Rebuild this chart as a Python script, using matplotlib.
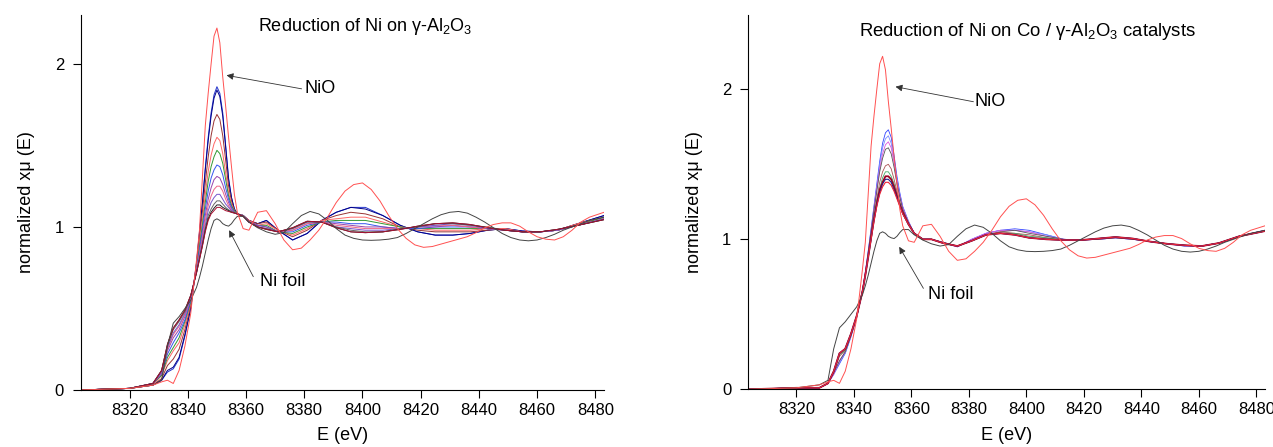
import matplotlib
matplotlib.use("Agg")
import matplotlib.pyplot as plt

plt.rcParams['font.family'] = ['Liberation Sans', 'DejaVu Sans']
plt.rcParams['mathtext.fontset'] = 'custom'
plt.rcParams['mathtext.rm'] = 'Liberation Sans'
plt.rcParams['mathtext.it'] = 'Liberation Sans:italic'

# energy grid (eV) shared by the reduction series
energy = [8303, 8320, 8328, 8331, 8333, 8335, 8337, 8339, 8341,
          8343, 8344, 8345, 8346, 8347, 8348, 8349, 8350, 8351, 8352,
          8353, 8354, 8355, 8356, 8357, 8359, 8361, 8364, 8367, 8371,
          8376, 8381, 8386, 8391, 8396, 8401, 8407, 8413, 8419, 8425,
          8431, 8437, 8443, 8449, 8455, 8461, 8467, 8474, 8483]

# finer grid for the two reference spectra
ref_energy = [8303, 8320, 8328, 8331, 8333, 8335, 8337, 8339, 8341,
              8343, 8344, 8345, 8346, 8347, 8348, 8349, 8350, 8351, 8352,
              8353, 8354, 8355, 8356, 8357, 8359, 8361,
              8364, 8367, 8370, 8373, 8376, 8379, 8382, 8385, 8388, 8391,
              8394, 8397, 8400, 8403, 8406, 8409, 8412, 8415, 8418, 8421,
              8424, 8427, 8430, 8433, 8436, 8439, 8442, 8445, 8448, 8451,
              8454, 8457, 8460, 8463, 8466, 8469, 8472, 8475, 8478, 8483]

# reference spectra (same in both panels)
nio = [0.00, 0.01, 0.03, 0.05, 0.06, 0.04, 0.12, 0.27, 0.47,
       0.80, 0.98, 1.30, 1.62, 1.82, 2.00, 2.17, 2.22, 2.13, 1.92,
       1.74, 1.55, 1.37, 1.20, 1.09, 0.99, 0.98,
       1.09, 1.10, 1.02, 0.92, 0.86, 0.87, 0.92, 0.98, 1.06, 1.15,
       1.22, 1.26, 1.27, 1.23, 1.16, 1.07, 0.99, 0.93, 0.89, 0.875,
       0.88, 0.895, 0.91, 0.925, 0.94, 0.965, 0.995, 1.015, 1.025, 1.025,
       1.005, 0.97, 0.94, 0.925, 0.92, 0.94, 0.98, 1.03, 1.06, 1.09]
ni_foil = [0.00, 0.01, 0.03, 0.06, 0.27, 0.41, 0.45, 0.50, 0.55,
           0.63, 0.69, 0.76, 0.84, 0.92, 0.99, 1.04, 1.05, 1.04, 1.02,
           1.01, 1.005, 1.02, 1.045, 1.065, 1.065, 1.03,
           0.995, 0.97, 0.955, 0.965, 1.02, 1.07, 1.095, 1.08, 1.04, 0.99,
           0.95, 0.93, 0.92, 0.918, 0.92, 0.925, 0.935, 0.96, 0.99, 1.02,
           1.05, 1.075, 1.09, 1.095, 1.085, 1.06, 1.03, 0.995, 0.96, 0.935,
           0.92, 0.915, 0.92, 0.935, 0.955, 0.98, 1.00, 1.02, 1.04, 1.06]

# reduction series, Ni / gamma-Al2O3
left_series = [
    [0.00, 0.01, 0.03, 0.06, 0.11, 0.13, 0.19, 0.33, 0.50,
     0.78, 0.97, 1.15, 1.36, 1.55, 1.70, 1.81, 1.86, 1.82, 1.70, 1.50, 1.30, 1.18, 1.11, 1.08,
     1.07, 1.04, 1.02, 1.04, 0.98, 0.92, 0.96, 1.04, 1.09, 1.12, 1.12, 1.07, 1.01, 0.97, 0.95, 0.95, 0.96, 0.98, 0.99, 0.975, 0.97, 0.98, 1.02, 1.07],
    [0.00, 0.01, 0.03, 0.06, 0.12, 0.14, 0.20, 0.34, 0.50,
     0.78, 0.96, 1.14, 1.35, 1.53, 1.68, 1.79, 1.84, 1.80, 1.68, 1.49, 1.29, 1.18, 1.11, 1.08,
     1.07, 1.04, 1.02, 1.04, 0.98, 0.92, 0.96, 1.04, 1.09, 1.12, 1.11, 1.07, 1.01, 0.97, 0.95, 0.95, 0.96, 0.98, 0.99, 0.975, 0.97, 0.98, 1.02, 1.07],
    [0.00, 0.01, 0.03, 0.07, 0.15, 0.19, 0.25, 0.37, 0.52,
     0.77, 0.93, 1.09, 1.27, 1.43, 1.56, 1.65, 1.69, 1.66, 1.56, 1.41, 1.25, 1.16, 1.10, 1.08,
     1.07, 1.04, 1.02, 1.03, 0.98, 0.94, 0.98, 1.04, 1.07, 1.09, 1.08, 1.05, 1.00, 0.98, 0.97, 0.97, 0.97, 0.98, 0.99, 0.97, 0.97, 0.98, 1.02, 1.06],
    [0.00, 0.01, 0.03, 0.09, 0.18, 0.24, 0.29, 0.40, 0.53,
     0.76, 0.90, 1.04, 1.20, 1.34, 1.44, 1.51, 1.55, 1.53, 1.45, 1.33, 1.21, 1.14, 1.10, 1.08,
     1.07, 1.04, 1.01, 1.02, 0.98, 0.95, 0.99, 1.04, 1.05, 1.06, 1.06, 1.03, 1.00, 0.99, 0.98, 0.98, 0.98, 0.99, 0.99, 0.97, 0.97, 0.98, 1.02, 1.06],
    [0.00, 0.01, 0.04, 0.09, 0.20, 0.26, 0.32, 0.42, 0.54,
     0.75, 0.88, 1.01, 1.15, 1.28, 1.37, 1.43, 1.47, 1.45, 1.39, 1.29, 1.19, 1.13, 1.10, 1.08,
     1.07, 1.03, 1.01, 1.01, 0.97, 0.96, 1.00, 1.03, 1.04, 1.04, 1.04, 1.02, 1.00, 0.99, 0.99, 0.99, 0.99, 0.99, 0.98, 0.97, 0.97, 0.98, 1.01, 1.06],
    [0.00, 0.01, 0.04, 0.10, 0.22, 0.29, 0.35, 0.43, 0.55,
     0.74, 0.86, 0.98, 1.11, 1.22, 1.30, 1.35, 1.38, 1.37, 1.32, 1.24, 1.17, 1.12, 1.09, 1.08,
     1.07, 1.03, 1.01, 1.00, 0.97, 0.97, 1.01, 1.03, 1.03, 1.02, 1.02, 1.00, 0.99, 0.99, 1.00, 1.00, 1.00, 0.99, 0.98, 0.97, 0.97, 0.98, 1.01, 1.05],
    [0.00, 0.01, 0.04, 0.10, 0.24, 0.32, 0.37, 0.45, 0.56,
     0.74, 0.84, 0.95, 1.07, 1.17, 1.24, 1.29, 1.31, 1.30, 1.26, 1.20, 1.15, 1.11, 1.09, 1.08,
     1.07, 1.03, 1.01, 1.00, 0.97, 0.98, 1.02, 1.03, 1.02, 1.01, 1.00, 1.00, 0.99, 1.00, 1.00, 1.01, 1.00, 0.99, 0.98, 0.97, 0.97, 0.98, 1.01, 1.05],
    [0.00, 0.01, 0.04, 0.11, 0.25, 0.34, 0.39, 0.46, 0.57,
     0.73, 0.83, 0.93, 1.04, 1.13, 1.19, 1.23, 1.25, 1.25, 1.22, 1.17, 1.13, 1.10, 1.09, 1.08,
     1.07, 1.03, 1.00, 0.99, 0.97, 0.98, 1.02, 1.03, 1.01, 1.00, 0.99, 0.99, 0.99, 1.00, 1.01, 1.01, 1.00, 0.99, 0.98, 0.97, 0.97, 0.98, 1.01, 1.05],
    [0.00, 0.01, 0.04, 0.11, 0.26, 0.35, 0.40, 0.47, 0.57,
     0.73, 0.82, 0.91, 1.01, 1.10, 1.15, 1.18, 1.20, 1.20, 1.17, 1.14, 1.12, 1.10, 1.09, 1.08,
     1.07, 1.03, 1.00, 0.99, 0.97, 0.99, 1.03, 1.03, 1.00, 0.99, 0.98, 0.98, 0.99, 1.00, 1.01, 1.02, 1.01, 0.99, 0.98, 0.97, 0.97, 0.98, 1.01, 1.05],
    [0.00, 0.01, 0.04, 0.12, 0.27, 0.37, 0.42, 0.48, 0.58,
     0.72, 0.81, 0.89, 0.99, 1.07, 1.11, 1.14, 1.16, 1.16, 1.14, 1.12, 1.105, 1.095, 1.09, 1.08,
     1.07, 1.03, 1.00, 0.99, 0.97, 0.99, 1.03, 1.03, 1.00, 0.98, 0.97, 0.97, 0.99, 1.00, 1.02, 1.02, 1.01, 1.00, 0.98, 0.97, 0.97, 0.985, 1.01, 1.045],
    [0.00, 0.01, 0.04, 0.12, 0.28, 0.38, 0.43, 0.49, 0.58,
     0.72, 0.80, 0.885, 0.98, 1.05, 1.09, 1.115, 1.135, 1.135, 1.12, 1.11, 1.10, 1.09, 1.085, 1.08,
     1.065, 1.03, 1.00, 0.985, 0.97, 0.995, 1.035, 1.03, 0.995, 0.97, 0.965, 0.97, 0.985, 1.005, 1.02, 1.025, 1.015, 0.995, 0.98, 0.97, 0.97, 0.985, 1.01, 1.045],
    [0.00, 0.01, 0.04, 0.12, 0.28, 0.38, 0.43, 0.49, 0.58,
     0.72, 0.80, 0.88, 0.97, 1.04, 1.08, 1.10, 1.12, 1.12, 1.11, 1.10, 1.095, 1.09, 1.085, 1.08,
     1.065, 1.03, 1.00, 0.985, 0.97, 0.995, 1.035, 1.03, 0.995, 0.97, 0.965, 0.97, 0.985, 1.005, 1.02, 1.025, 1.015, 0.995, 0.98, 0.97, 0.97, 0.985, 1.01, 1.045],
]
left_colors = ['#2233cc', '#000088', '#993333', '#ff6666', '#339933', '#3355ee',
               '#9944aa', '#ee6688', '#7755cc', '#666666', '#222222', '#aa1133']

# reduction series, Ni on Co / gamma-Al2O3
right_series = [
    [0.00, 0.01, 0.01, 0.04, 0.10, 0.17, 0.24, 0.35, 0.48,
     0.66, 0.78, 0.92, 1.07, 1.22, 1.37, 1.52, 1.64, 1.71, 1.73, 1.68, 1.56, 1.42, 1.31, 1.22, 1.12, 1.04,
     1.00, 1.00, 0.98, 0.95, 1.00, 1.04, 1.06, 1.07, 1.06, 1.03, 1.00, 0.995, 1.00, 1.01, 1.00, 0.985, 0.97, 0.955, 0.955, 0.975, 1.02, 1.06],
    [0.00, 0.01, 0.01, 0.04, 0.10, 0.18, 0.24, 0.35, 0.48,
     0.66, 0.78, 0.92, 1.06, 1.21, 1.35, 1.50, 1.61, 1.67, 1.69, 1.64, 1.53, 1.40, 1.30, 1.21, 1.12, 1.04,
     1.00, 1.00, 0.98, 0.95, 1.00, 1.04, 1.06, 1.06, 1.05, 1.03, 1.00, 0.995, 1.00, 1.01, 1.00, 0.985, 0.97, 0.955, 0.955, 0.975, 1.02, 1.06],
    [0.00, 0.01, 0.01, 0.04, 0.10, 0.19, 0.25, 0.36, 0.48,
     0.66, 0.78, 0.91, 1.05, 1.20, 1.34, 1.47, 1.57, 1.63, 1.65, 1.61, 1.51, 1.39, 1.29, 1.21, 1.115, 1.04,
     1.00, 1.00, 0.98, 0.95, 1.00, 1.04, 1.06, 1.06, 1.05, 1.02, 1.00, 0.995, 1.00, 1.01, 1.00, 0.985, 0.97, 0.96, 0.955, 0.975, 1.02, 1.06],
    [0.00, 0.01, 0.01, 0.04, 0.11, 0.19, 0.25, 0.36, 0.48,
     0.66, 0.77, 0.91, 1.05, 1.19, 1.32, 1.45, 1.54, 1.60, 1.61, 1.57, 1.48, 1.37, 1.28, 1.20, 1.11, 1.04,
     1.00, 1.00, 0.98, 0.955, 0.99, 1.03, 1.05, 1.06, 1.04, 1.02, 1.00, 0.995, 1.00, 1.01, 1.00, 0.985, 0.97, 0.96, 0.955, 0.975, 1.02, 1.06],
    [0.00, 0.01, 0.01, 0.04, 0.11, 0.22, 0.26, 0.36, 0.49,
     0.65, 0.77, 0.89, 1.02, 1.15, 1.27, 1.38, 1.45, 1.49, 1.50, 1.47, 1.40, 1.32, 1.25, 1.19, 1.11, 1.04,
     1.00, 1.00, 0.975, 0.955, 0.99, 1.03, 1.05, 1.04, 1.03, 1.01, 0.995, 0.995, 1.005, 1.015, 1.005, 0.985, 0.97, 0.96, 0.955, 0.975, 1.02, 1.055],
    [0.00, 0.01, 0.01, 0.04, 0.12, 0.23, 0.26, 0.37, 0.49,
     0.65, 0.76, 0.89, 1.01, 1.14, 1.25, 1.34, 1.41, 1.45, 1.45, 1.42, 1.37, 1.30, 1.24, 1.18, 1.10, 1.04,
     1.00, 1.00, 0.975, 0.955, 0.99, 1.03, 1.04, 1.04, 1.02, 1.01, 0.995, 0.995, 1.005, 1.015, 1.005, 0.985, 0.97, 0.96, 0.955, 0.975, 1.02, 1.055],
    [0.00, 0.01, 0.01, 0.04, 0.12, 0.24, 0.27, 0.37, 0.49,
     0.65, 0.76, 0.88, 1.01, 1.13, 1.24, 1.33, 1.38, 1.42, 1.42, 1.40, 1.35, 1.29, 1.23, 1.18, 1.10, 1.04,
     1.00, 1.00, 0.975, 0.955, 0.99, 1.03, 1.04, 1.03, 1.01, 1.00, 0.995, 0.995, 1.005, 1.015, 1.005, 0.985, 0.97, 0.96, 0.955, 0.975, 1.02, 1.055],
    [0.00, 0.01, 0.01, 0.04, 0.12, 0.24, 0.27, 0.37, 0.49,
     0.65, 0.76, 0.88, 1.00, 1.13, 1.23, 1.31, 1.37, 1.40, 1.40, 1.38, 1.33, 1.28, 1.23, 1.17, 1.10, 1.04,
     1.00, 1.00, 0.975, 0.955, 0.99, 1.03, 1.04, 1.03, 1.01, 1.00, 0.995, 0.995, 1.005, 1.015, 1.005, 0.985, 0.97, 0.96, 0.955, 0.975, 1.02, 1.055],
    [0.00, 0.01, 0.01, 0.04, 0.12, 0.24, 0.27, 0.37, 0.49,
     0.65, 0.76, 0.88, 1.00, 1.12, 1.22, 1.30, 1.35, 1.38, 1.38, 1.36, 1.32, 1.27, 1.22, 1.17, 1.10, 1.04,
     1.00, 1.00, 0.975, 0.955, 0.99, 1.03, 1.04, 1.03, 1.01, 1.00, 0.995, 0.995, 1.005, 1.015, 1.005, 0.985, 0.97, 0.96, 0.955, 0.975, 1.02, 1.055],
]
right_colors = ['#3344ff', '#7788ff', '#dd55dd', '#555555', '#aa5555',
                '#44aa66', '#990022', '#222288', '#ee2233']
right_widths = [0.6, 0.6, 0.6, 0.6, 0.6, 0.6, 1.3, 0.8, 0.8]

x_ticks = [8320, 8340, 8360, 8380, 8400, 8420, 8440, 8460, 8480]

fig = plt.figure(figsize=(12.73, 4.47), dpi=100)
ax1 = fig.add_axes([0.0634, 0.1275, 0.4111, 0.839])
ax2 = fig.add_axes([0.5876, 0.129, 0.4061, 0.8374])


def style(ax, ymax):
    ax.set_xlim(8303.2, 8483)
    ax.set_ylim(0, ymax)
    ax.spines['top'].set_visible(False)
    ax.spines['right'].set_visible(False)
    ax.spines['left'].set_linewidth(0.8)
    ax.spines['bottom'].set_linewidth(0.8)
    ax.set_xticks(x_ticks)
    ax.set_yticks([0, 1, 2])
    ax.tick_params(direction='out', length=6, width=0.8, labelsize=12)
    ax.tick_params(axis='x', pad=3)
    ax.tick_params(axis='y', pad=6)
    ax.set_xlabel('E (eV)', fontsize=13, labelpad=7)
    ax.set_ylabel('normalized xμ (E)', fontsize=13, labelpad=14)


for row, c in zip(left_series, left_colors):
    ax1.plot(energy, row, color=c, lw=0.7)
ax1.plot(ref_energy, ni_foil, color='#444444', lw=0.7)
ax1.plot(ref_energy, nio, color='#ff5050', lw=0.7)
style(ax1, 2.30)
ax1.text(0.543, 0.968, r'Reduction of Ni on γ-Al$_2$O$_3$', transform=ax1.transAxes,
         ha='center', va='center', fontsize=13)

for row, c, w in zip(right_series, right_colors, right_widths):
    ax2.plot(energy, row, color=c, lw=w)
ax2.plot(ref_energy, ni_foil, color='#444444', lw=0.7)
ax2.plot(ref_energy, nio, color='#ff5050', lw=0.7)
style(ax2, 2.495)
ax2.text(0.54, 0.955, r'Reduction of Ni on Co / γ-Al$_2$O$_3$ catalysts', transform=ax2.transAxes,
         ha='center', va='center', fontsize=13.3)

arrow = dict(arrowstyle='-|>', color='#333333', lw=0.6, mutation_scale=10,
             shrinkA=0, shrinkB=0)

ax1.annotate('', xy=(8353.3, 1.93), xytext=(8379.1, 1.847), arrowprops=arrow)
ax1.text(8380, 1.85, 'NiO', ha='left', va='center', fontsize=13)
ax1.annotate('', xy=(8354.2, 0.98), xytext=(8362.5, 0.695), arrowprops=arrow)
ax1.text(8364.8, 0.663, 'Ni foil', ha='left', va='center', fontsize=13)

ax2.annotate('', xy=(8354.5, 2.017), xytext=(8381.6, 1.917), arrowprops=arrow)
ax2.text(8381.9, 1.917, 'NiO', ha='left', va='center', fontsize=13)
ax2.annotate('', xy=(8355.8, 0.95), xytext=(8364.2, 0.673), arrowprops=arrow)
ax2.text(8365.9, 0.633, 'Ni foil', ha='left', va='center', fontsize=13)

fig.savefig('out.png', dpi=100)
